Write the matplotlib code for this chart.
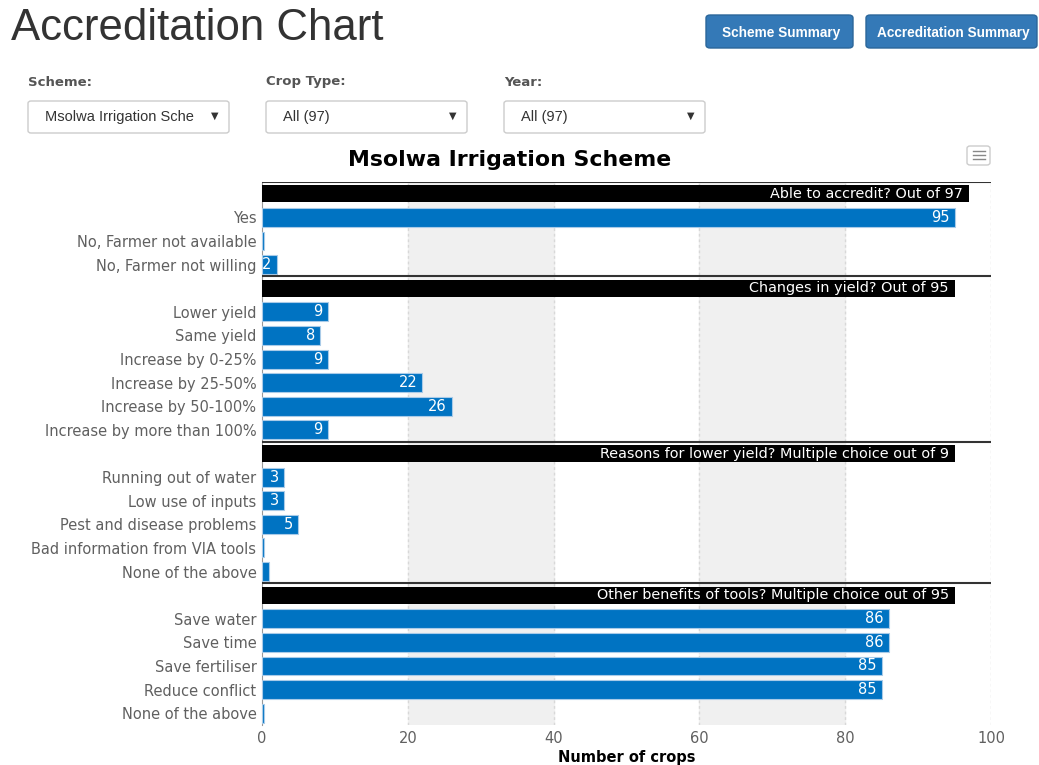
import matplotlib.pyplot as plt
from matplotlib.patches import FancyBboxPatch
from matplotlib.lines import Line2D

W, H = 1039, 765

# data
section_titles = ["Able to accredit? Out of 97",
                  "Changes in yield? Out of 95",
                  "Reasons for lower yield? Multiple choice out of 9",
                  "Other benefits of tools? Multiple choice out of 95"]
section_widths = [97, 95, 95, 95]

cats_accredit = ["Yes", "No, Farmer not available", "No, Farmer not willing"]
vals_accredit = [95, 0, 2]

cats_yield = ["Lower yield", "Same yield", "Increase by 0-25%", "Increase by 25-50%",
              "Increase by 50-100%", "Increase by more than 100%"]
vals_yield = [9, 8, 9, 22, 26, 9]

cats_reasons = ["Running out of water", "Low use of inputs", "Pest and disease problems",
                "Bad information from VIA tools", "None of the above"]
vals_reasons = [3, 3, 5, 0, 1]

cats_benefits = ["Save water", "Save time", "Save fertiliser", "Reduce conflict",
                 "None of the above"]
vals_benefits = [86, 86, 85, 85, 0]

sections = [(cats_accredit, vals_accredit), (cats_yield, vals_yield),
            (cats_reasons, vals_reasons), (cats_benefits, vals_benefits)]

blue = "#0073c2"
min_len = 0.25  # like highcharts minPointLength, so zero bars still show


def fx(x):
    return x / W


def fy(y):
    return 1 - y / H


fig = plt.figure(figsize=(W / 100, H / 100), dpi=100)

# ---- page header ----
fig.text(fx(11), fy(29), "Accreditation Chart", fontsize=31.5, color="#333333",
         family="Liberation Sans", va="center", ha="left")


def button(x0, x1, y0, y1, label):
    p = FancyBboxPatch((fx(x0), fy(y1)), fx(x1 - x0), (y1 - y0) / H,
                       boxstyle="round,pad=0,rounding_size=0.004",
                       transform=fig.transFigure, facecolor="#3479b7",
                       edgecolor="#2b669a", linewidth=1)
    fig.patches.append(p)
    fig.text(fx((x0 + x1) / 2 + 2), fy((y0 + y1) / 2 + 1), label, color="white",
             fontsize=9.8, fontweight="bold", family="Liberation Sans",
             ha="center", va="center")


button(706, 853, 15, 48, "Scheme Summary")
button(866, 1037, 15, 48, "Accreditation Summary")

dropdowns = [(28, 229, "Scheme:", "Msolwa Irrigation Sche"),
             (266, 467, "Crop Type:", "All (97)"),
             (504, 705, "Year:", "All (97)")]
for x0, x1, lab, val in dropdowns:
    fig.text(fx(x0), fy(82), lab, fontsize=9.5, fontweight="bold", color="#555555",
             ha="left", va="center")
    p = FancyBboxPatch((fx(x0), fy(133)), fx(x1 - x0), 32 / H,
                       boxstyle="round,pad=0,rounding_size=0.003",
                       transform=fig.transFigure, facecolor="white",
                       edgecolor="#cccccc", linewidth=1)
    fig.patches.append(p)
    fig.text(fx(x0 + 17), fy(117), val, fontsize=10.5, color="#333333",
             family="Liberation Sans", ha="left", va="center")
    fig.text(fx(x1 - 14), fy(116), "\u25bc", fontsize=7, color="#333333",
             ha="center", va="center")

# menu icon
p = FancyBboxPatch((fx(967), fy(165)), fx(23), 19 / H,
                   boxstyle="round,pad=0,rounding_size=0.003",
                   transform=fig.transFigure, facecolor="white",
                   edgecolor="#cccccc", linewidth=1)
fig.patches.append(p)
for yy in (151, 155, 159):
    fig.lines.append(Line2D([fx(973), fx(985)], [fy(yy), fy(yy)],
                            transform=fig.transFigure, color="#888888", lw=1))

fig.text(fx(510), fy(160), "Msolwa Irrigation Scheme", fontsize=15.8,
         fontweight="bold", color="black", ha="center", va="center")

# ---- chart ----
ax = fig.add_axes([fx(262), fy(725), fx(991 - 262), (725 - 182) / H])

labels = []
row = 0
sep_rows = []
for si, (cats, vals) in enumerate(sections):
    ax.barh(row, section_widths[si], height=0.72, color="black", zorder=3)
    ax.text(section_widths[si] - 0.8, row, section_titles[si], color="white",
            fontsize=10.4, ha="right", va="center", zorder=4)
    labels.append("")
    row += 1
    for c, v in zip(cats, vals):
        ax.barh(row, max(v, min_len), height=0.8, color=blue, edgecolor="#a9cbe8",
                linewidth=0.8, zorder=3)
        if v >= 2:
            ax.text(v - 0.7, row, str(v), color="white", fontsize=10.5,
                    ha="right", va="center", zorder=4)
        labels.append(c)
        row += 1
    sep_rows.append(row - 0.5)

ax.set_yticks(range(len(labels)))
ax.set_yticklabels(labels, fontsize=10.5, color="#606060")
ax.set_ylim(len(labels) - 0.5, -0.5)
ax.set_xlim(0, 100)
ax.set_xticks([0, 20, 40, 60, 80, 100])
ax.tick_params(axis="both", length=0, pad=4)
ax.tick_params(axis="x", labelsize=10.5, labelcolor="#606060", pad=4)
ax.set_xlabel("Number of crops", fontsize=10.5, fontweight="bold", labelpad=3)

ax.axvspan(20, 40, color="#f0f0f0", zorder=0)
ax.axvspan(60, 80, color="#f0f0f0", zorder=0)
for gx in (20, 40, 60, 80, 100):
    ax.axvline(gx, color="#d8d8d8", lw=1, ls=(0, (2, 2)), zorder=1)

for s in ["top", "right", "bottom"]:
    ax.spines[s].set_visible(False)
ax.spines["left"].set_color("#999999")
ax.hlines([-0.5] + sep_rows[:-1], 0, 100, color="#333333", lw=1.5, zorder=5)

fig.savefig("out.png", dpi=100)
